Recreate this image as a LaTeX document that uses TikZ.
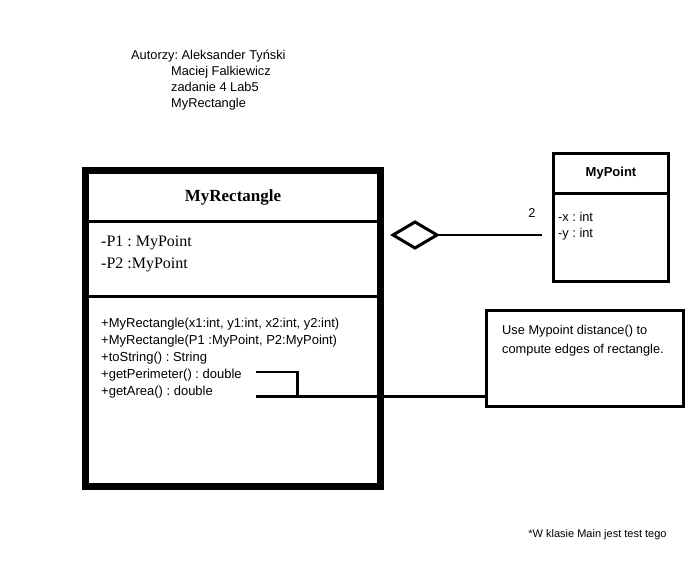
\documentclass[tikz,border=0pt]{standalone}
\usepackage{fontspec}
\setmainfont{Liberation Serif}
\setsansfont{Liberation Sans}
\frenchspacing

\begin{document}
\begin{tikzpicture}[x=1pt,y=-1pt,
  txt/.style={font=\sffamily\fontsize{12.8}{15}\selectfont,inner sep=0,anchor=base west},
  mth/.style={font=\sffamily\fontsize{13}{15}\selectfont,inner sep=0,anchor=base west},
  atr/.style={font=\rmfamily\fontsize{16}{18}\selectfont,inner sep=0,anchor=base west},
  classline/.style={line width=7pt},
  divline/.style={line width=3.5pt},
  boxline/.style={line width=3pt},
  conn/.style={line width=2.6pt}]
\useasboundingbox (0,0) rectangle (696,564);

% authors
\node[txt] (aut1) at (131,60) {Autorzy: Aleksander Tyński};
\node[txt] (aut2) at (171,76) {Maciej Falkiewicz};
\node[txt] (aut3) at (171,92) {zadanie 4 Lab5};
\node[txt] (aut4) at (171,108) {MyRectangle};

% MyRectangle
\begin{scope}
\coordinate (rtl) at (85.5,170.5);
\coordinate (rbr) at (380,486);
\coordinate (d1) at (0,221.5);
\coordinate (d2) at (0,296.5);

\draw[classline] (rtl) rectangle (rbr);
\draw[divline] (rtl |- d1) -- (rbr |- d1);
\draw[divline] (rtl |- d2) -- (rbr |- d2);

\node[font=\rmfamily\bfseries\fontsize{17}{18}\selectfont,inner sep=0,anchor=base] (rname) at (233,201.5) {MyRectangle};
\node[atr] (p1) at (101,247) {-P1 : MyPoint};
\node[atr] (p2) at (101,268) {-P2 :MyPoint};

\node[mth] (m1) at (101,327) {+MyRectangle(x1:int, y1:int, x2:int, y2:int)};
\node[mth] (m2) at (101,344) {+MyRectangle(P1 :MyPoint, P2:MyPoint)};
\node[mth] (m3) at (101,361) {+toString() : String};
\node[mth] (m4) at (101,378) {+getPerimeter() : double};
\node[mth] (m5) at (101,395) {+getArea() : double};
\end{scope}

% MyPoint
\begin{scope}
\coordinate (ptl) at (553.5,153.5);
\coordinate (pbr) at (668.5,281.5);
\coordinate (pd) at (0,193.5);

\draw[boxline] (ptl) rectangle (pbr);
\draw[boxline] (ptl |- pd) -- (pbr |- pd);

\node[font=\sffamily\bfseries\fontsize{13}{15}\selectfont,inner sep=0,anchor=base] (pname) at (611,176.5) {MyPoint};
\node[txt] (px) at (558,221.5) {-x : int};
\node[txt] (py) at (558,237.5) {-y : int};
\end{scope}

% aggregation
\coordinate (dl) at (393,235);
\coordinate (dt) at (415,222);
\coordinate (dr) at (437,235);
\coordinate (db) at (415,248);
\coordinate (aggend) at (542,235);
\draw[boxline,line join=miter] (dl) -- (dt) -- (dr) -- (db) -- cycle;
\draw[conn] (dr) -- (aggend);
\node[txt,anchor=base] (mult) at (532,217.5) {2};

% note
\node[draw,boxline,minimum width=197pt,minimum height=96.5pt,inner sep=0] (note) at (585,358.5) {};
\node[txt,align=left,anchor=north west] (ntext) at (502,325) {Use Mypoint distance() to\\[4.5pt]compute edges of rectangle.};

\coordinate (pe) at (256,372);
\coordinate (ae) at (256,396.5);
\draw[conn] (pe) -- (297.5,372) |- (ae);
\draw[conn] (ae) -- (note.west |- ae);

\node[font=\sffamily\fontsize{11}{13}\selectfont,inner sep=0,anchor=base] (foot) at (597.5,537) {*W klasie Main jest test tego};
\end{tikzpicture}
\end{document}
